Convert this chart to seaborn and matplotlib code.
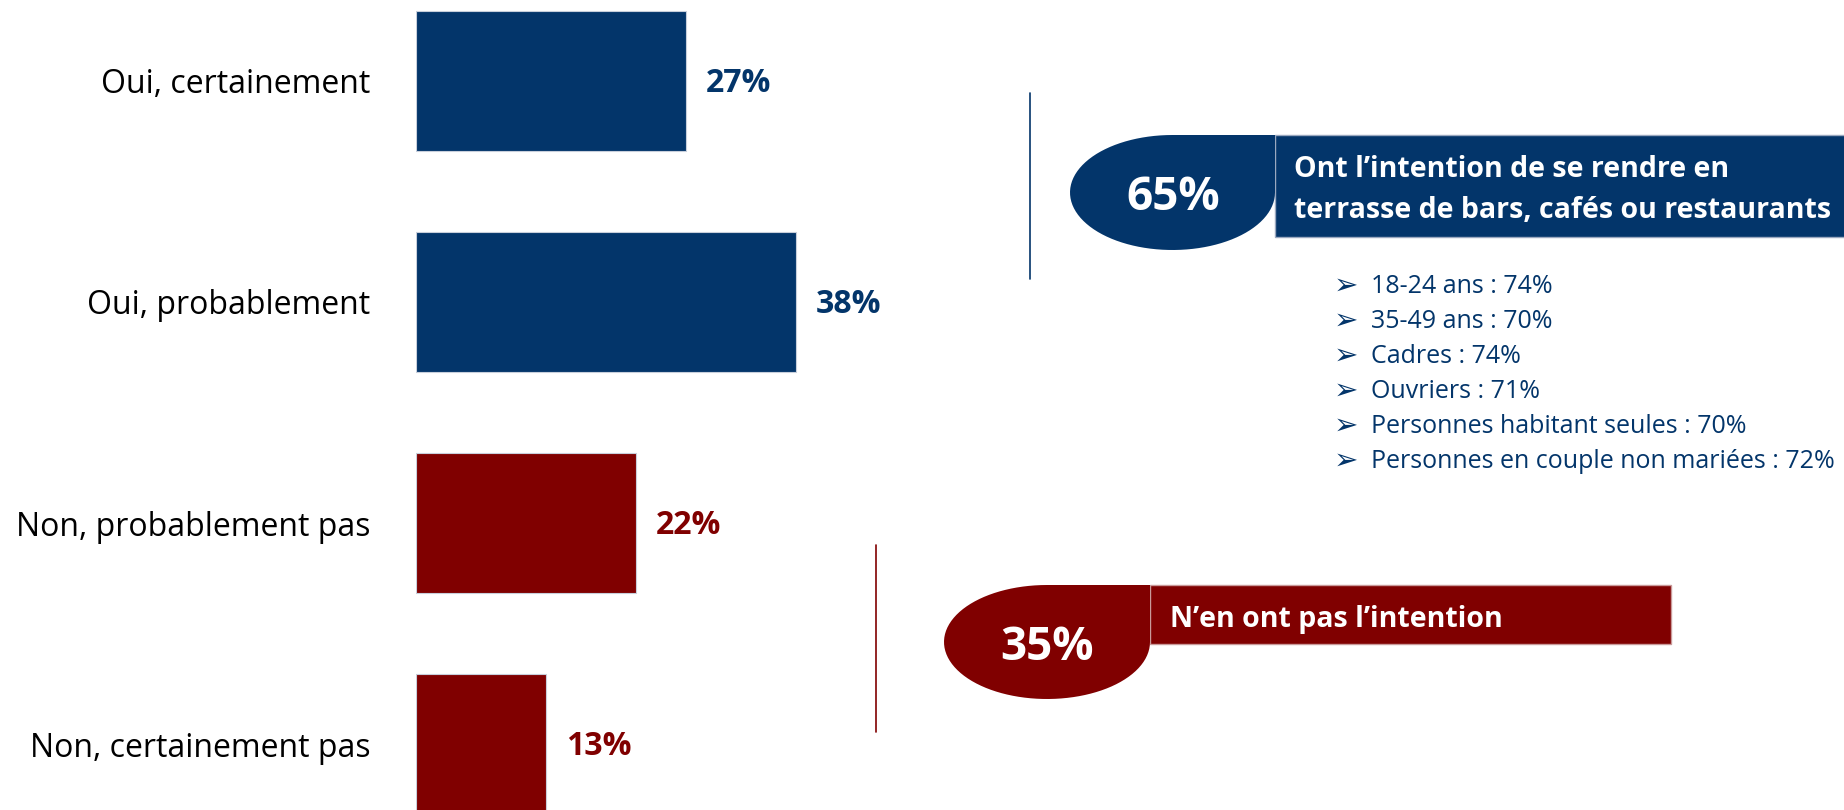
import numpy as np
import pandas as pd
import matplotlib
matplotlib.use("Agg")
import matplotlib.pyplot as plt
from matplotlib.path import Path
from matplotlib.patches import PathPatch, Rectangle
import seaborn as sns

# ---------------- data ----------------
categories = ["Oui, certainement", "Oui, probablement",
              "Non, probablement pas", "Non, certainement pas"]
values = [27, 38, 22, 13]
groups = ["oui", "oui", "non", "non"]

total_oui = 65
total_non = 35
oui_title = ["Ont l\u2019intention de se rendre en",
             "terrasse de bars, caf\u00e9s ou restaurants"]
non_title = "N\u2019en ont pas l\u2019intention"
detail_labels = ["18-24 ans", "35-49 ans", "Cadres", "Ouvriers",
                 "Personnes habitant seules", "Personnes en couple non mari\u00e9es"]
detail_values = [74, 70, 74, 71, 70, 72]

NAVY = "#03356A"
RED = "#800000"
group_colors = {"oui": NAVY, "non": RED}

# ---------------- style ----------------
sns.set_theme(style="white")
plt.rcParams["font.family"] = ["Open Sans", "DejaVu Sans"]

W, H = 1844, 810
fig = plt.figure(figsize=(W / 100, H / 100), dpi=100)

# bar axes: x=0 at px 417, 10 px per percent
ax = fig.add_axes([416 / W, 0, 1000 / W, 1])
df = pd.DataFrame({"cat": categories, "val": values, "grp": groups})
sns.barplot(data=df, x="val", y="cat", hue="grp", palette=group_colors,
            orient="h", width=0.63, dodge=False, legend=False, ax=ax,
            saturation=1, edgecolor="#c8cfdb", linewidth=0.8)
ax.set_xlim(0, 100)
spacing = 221.2
ax.set_ylim(3 + (H - 744) / spacing, -81 / spacing)
ax.set_xlabel("")
ax.set_ylabel("")
ax.set_xticks([])
for s in ax.spines.values():
    s.set_visible(False)
ax.tick_params(axis="y", length=0, pad=33, labelsize=23, labelcolor="black")
ax.patch.set_alpha(0)

for i, (v, g) in enumerate(zip(values, groups)):
    ax.text(v + 2, i + 0.012, f"{v}%", va="center", ha="left", fontsize=23,
            fontweight="bold", color=group_colors[g])

# ---------------- overlay (pixel coords) ----------------
ov = fig.add_axes([0, 0, 1, 1])
ov.set_xlim(0, W)
ov.set_ylim(H, 0)
ov.axis("off")


def teardrop(cx, cy, rx, ry, color):
    t = np.linspace(np.pi / 2, 2 * np.pi, 80)
    xs = cx + rx * np.cos(t)
    ys = cy - ry * np.sin(t)
    verts = list(zip(xs, ys)) + [(cx + rx, cy - ry), (xs[0], ys[0])]
    codes = [Path.MOVETO] + [Path.LINETO] * (len(verts) - 2) + [Path.CLOSEPOLY]
    ov.add_patch(PathPatch(Path(verts, codes), facecolor=color,
                           edgecolor="none", zorder=3))


# vertical separators
ov.plot([1030, 1030], [93, 279], color=NAVY, lw=1.2)
ov.plot([876, 876], [545, 732], color=RED, lw=1.2)

# Oui block
ov.add_patch(Rectangle((1275, 135), 600, 102, facecolor=NAVY,
                       edgecolor="#9aa8bf", lw=1, zorder=2))
teardrop(1172.5, 192.5, 102.5, 57.5, NAVY)
ov.text(1173, 210, f"{total_oui}%", ha="center", va="baseline", fontsize=33,
        fontweight="bold", color="white", zorder=4)
ov.text(1294, 177, oui_title[0], ha="left", va="baseline", fontsize=20.5,
        fontweight="bold", color="white", zorder=4)
ov.text(1294, 218, oui_title[1], ha="left", va="baseline", fontsize=20.5,
        fontweight="bold", color="white", zorder=4)

# detail bullets
for k, (lab, val) in enumerate(zip(detail_labels, detail_values)):
    yb = 293 + 35 * k
    ov.text(1334, yb + 1, "\u27a2", ha="left", va="baseline", fontsize=21,
            color=NAVY, family=["DejaVu Sans"])
    ov.text(1371, yb, f"{lab} : {val}%", ha="left", va="baseline",
            fontsize=18, color=NAVY)

# Non block
ov.add_patch(Rectangle((1150, 585), 521, 59, facecolor=RED,
                       edgecolor="#c99a9a", lw=1, zorder=2))
teardrop(1047, 642, 103, 57, RED)
ov.text(1047, 660, f"{total_non}%", ha="center", va="baseline", fontsize=33,
        fontweight="bold", color="white", zorder=4)
ov.text(1170, 627, non_title, ha="left", va="baseline", fontsize=20.5,
        fontweight="bold", color="white", zorder=4)

fig.savefig("out.png", dpi=100)
